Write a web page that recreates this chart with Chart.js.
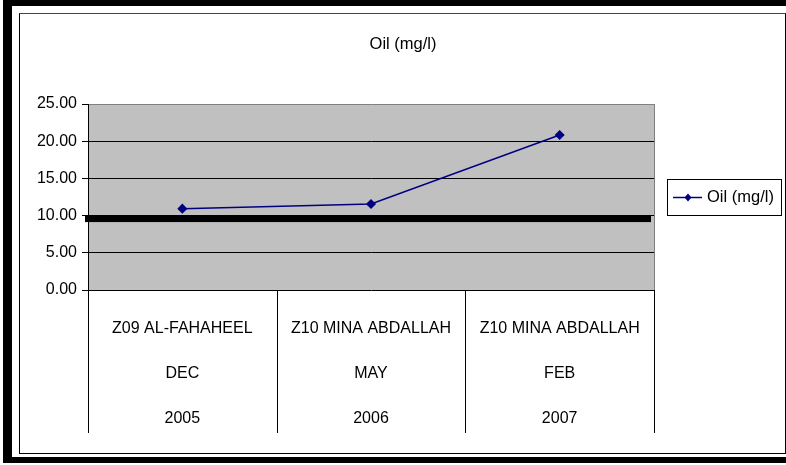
<!DOCTYPE html>
<html>
<head>
<meta charset="utf-8">
<script src="https://cdn.jsdelivr.net/npm/chart.js@4"></script>
<style>
  html, body { margin: 0; padding: 0; background: #fff; }
  #page { position: relative; width: 786px; height: 465px; overflow: hidden; }
  #outer { position: absolute; left: 3px; top: 0; width: 800px; height: 451px; border: 6px solid #000; border-left-width: 9px; border-right: none; }
  #inner { position: absolute; left: 19px; top: 13px; width: 765px; height: 439px; border: 1px solid #000; border-top-color: #444; }
  #chart { position: absolute; left: 0; top: 0; }
</style>
</head>
<body>
<div id="page">
  <div id="outer"></div>
  <div id="inner"></div>
  <canvas id="chart" width="786" height="465"></canvas>
</div>
<script>
// Data
const sites = ["Z09 AL-FAHAHEEL", "Z10 MINA ABDALLAH", "Z10 MINA ABDALLAH"];
const months = ["DEC", "MAY", "FEB"];
const years = ["2005", "2006", "2007"];
const oilValues = [10.93, 11.56, 20.83];
const limitValue = 9.6;
const yTicks = [0, 5, 10, 15, 20, 25];
const seriesName = "Oil (mg/l)";
const chartTitle = "Oil (mg/l)";

const FONT = "'Liberation Sans', Arial, sans-serif";
const NAVY = "#000080";

// Background, limit line, category separators, title and legend
const decorPlugin = {
  id: "decor",
  beforeDraw(chart) {
    const { ctx, chartArea: a } = chart;
    ctx.save();
    ctx.fillStyle = "#c0c0c0";
    ctx.fillRect(a.left, a.top, a.right - a.left, a.bottom - a.top);
    ctx.strokeStyle = "#808080";
    ctx.lineWidth = 1;
    ctx.beginPath();
    ctx.moveTo(Math.round(a.right) + 0.5, a.top);
    ctx.lineTo(Math.round(a.right) + 0.5, a.bottom);
    ctx.stroke();
    ctx.restore();
  },
  beforeDatasetsDraw(chart) {
    const { ctx, chartArea: a, scales } = chart;
    const y = scales.y.getPixelForValue(limitValue);
    ctx.save();
    ctx.fillStyle = "#000";
    ctx.fillRect(a.left - 3, y - 3.5, a.right - a.left, 7);
    ctx.restore();
  },
  afterDraw(chart) {
    const { ctx, chartArea: a, scales } = chart;
    ctx.save();
    // category separators below axis
    ctx.strokeStyle = "#000";
    ctx.lineWidth = 1;
    const xs = scales.x;
    const bottom = a.bottom + 143;
    for (let i = 0; i <= sites.length; i++) {
      const x = Math.round(xs.getPixelForValue(i - 0.5)) + 0.5;
      ctx.beginPath();
      ctx.moveTo(x, a.bottom);
      ctx.lineTo(x, bottom);
      ctx.stroke();
    }
    // title
    ctx.fillStyle = "#000";
    ctx.font = "16.5px " + FONT;
    ctx.textAlign = "center";
    ctx.textBaseline = "middle";
    ctx.fillText(chartTitle, 403, 44);
    // legend
    const lx = 667, ly = 179, lw = 114, lh = 36;
    ctx.fillStyle = "#fff";
    ctx.fillRect(lx, ly, lw, lh);
    ctx.strokeStyle = "#000";
    ctx.strokeRect(lx + 0.5, ly + 0.5, lw, lh);
    const my = ly + lh / 2 + 0.5;
    ctx.strokeStyle = NAVY;
    ctx.lineWidth = 1.5;
    ctx.beginPath();
    ctx.moveTo(lx + 6, my);
    ctx.lineTo(lx + 35, my);
    ctx.stroke();
    ctx.fillStyle = NAVY;
    ctx.beginPath();
    ctx.moveTo(lx + 21, my - 4);
    ctx.lineTo(lx + 24.5, my);
    ctx.lineTo(lx + 21, my + 4);
    ctx.lineTo(lx + 17.5, my);
    ctx.closePath();
    ctx.fill();
    ctx.fillStyle = "#000";
    ctx.textAlign = "left";
    ctx.fillText(seriesName, lx + 40, my);
    ctx.restore();
  }
};

const ctx = document.getElementById("chart").getContext("2d");
new Chart(ctx, {
  type: "line",
  data: {
    labels: sites.map((s, i) => [s, months[i], years[i]]),
    datasets: [{
      label: seriesName,
      data: oilValues,
      borderColor: NAVY,
      backgroundColor: NAVY,
      borderWidth: 1.5,
      pointStyle: "rectRot",
      pointRadius: 4,
      pointHoverRadius: 4,
      tension: 0
    }]
  },
  options: {
    responsive: false,
    animation: false,
    layout: { padding: { left: 18, top: 104, right: 132, bottom: 24 } },
    plugins: {
      legend: { display: false },
      title: { display: false },
      tooltip: { enabled: false }
    },
    scales: {
      x: {
        offset: true,
        grid: { display: false, drawTicks: false },
        border: { display: false },
        ticks: {
          color: "#000",
          padding: 16,
          maxRotation: 0,
          autoSkip: false,
          font: { family: FONT, size: 16, lineHeight: "45px" }
        },
        afterFit(scale) { scale.height = 151; }
      },
      y: {
        min: 0,
        max: 25,
        afterBuildTicks(scale) { scale.ticks = yTicks.map(v => ({ value: v })); },
        grid: {
          color: c => (c.tick && c.tick.value === 25 ? "#808080" : "#000"),
          tickLength: 6,
          tickColor: "#000",
          lineWidth: 1
        },
        border: { color: "#000", width: 1 },
        ticks: {
          color: "#000",
          padding: 5,
          font: { family: FONT, size: 16 },
          callback: v => Number(v).toFixed(2)
        },
        afterFit(scale) { scale.width = 70; }
      }
    }
  },
  plugins: [decorPlugin]
});
</script>
</body>
</html>
